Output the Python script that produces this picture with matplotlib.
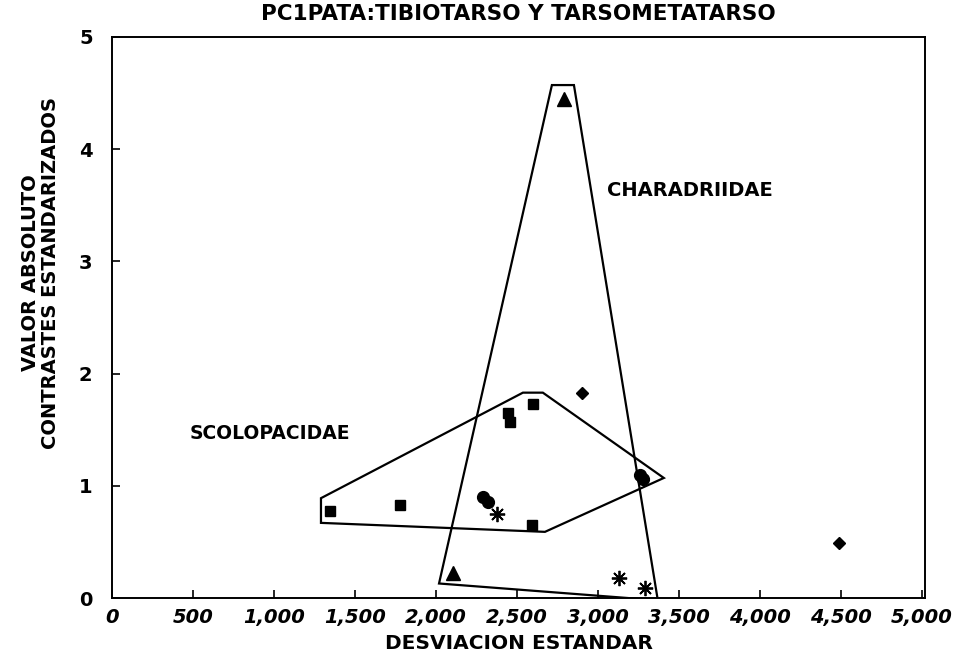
import numpy as np
import matplotlib.pyplot as plt
from matplotlib.ticker import FuncFormatter

plt.rcParams['font.family'] = ['DejaVu Sans']

# point data (desviacion estandar, valor absoluto contraste)
sq_x = [1346, 1778, 2444, 2457, 2599, 2593]
sq_y = [0.78, 0.83, 1.65, 1.57, 1.73, 0.65]
ci_x = [2290, 2320, 3260, 3280]
ci_y = [0.90, 0.86, 1.10, 1.06]
ast_x = [2377, 3130, 3290]
ast_y = [0.75, 0.18, 0.09]
dia_x = [2901, 4488]
dia_y = [1.83, 0.49]
tri_x = [2105, 2790]
tri_y = [0.22, 4.45]

# convex hulls drawn round the families
char_x = [2716, 2852, 3370, 2019]
char_y = [4.57, 4.57, -0.02, 0.13]
scol_x = [1290, 1290, 2673, 3407, 2660, 2537]
scol_y = [0.89, 0.67, 0.59, 1.07, 1.83, 1.83]

xticks = np.arange(0, 5001, 500)
yticks = [0, 1, 2, 3, 4, 5]

fig = plt.figure(figsize=(9.66, 6.69), dpi=100)
ax = fig.add_axes([0.116, 0.106, 0.8416, 0.839])

ax.fill(char_x, char_y, fill=False, edgecolor='black', lw=1.6, closed=True)
ax.fill(scol_x, scol_y, fill=False, edgecolor='black', lw=1.6, closed=True)

ax.plot(sq_x, sq_y, 's', color='black', ms=7, clip_on=False)
ax.plot(ci_x, ci_y, 'o', color='black', ms=8.5, clip_on=False)
ax.plot(ast_x, ast_y, marker=(8, 2, 0), ls='none', color='black', ms=11, mew=1.3, clip_on=False)
ax.plot(dia_x, dia_y, 'D', color='black', ms=6.5, clip_on=False)
ax.plot(tri_x, tri_y, '^', color='black', ms=10, clip_on=False)

ax.text(3056, 3.63, 'CHARADRIIDAE', fontsize=14, fontweight='bold', va='center')
ax.text(481, 1.47, 'SCOLOPACIDAE', fontsize=13.5, fontweight='bold', va='center')

ax.set_xlim(0, 5020)
ax.set_ylim(0, 5)
ax.set_xticks(xticks)
ax.set_yticks(yticks)
ax.xaxis.set_major_formatter(FuncFormatter(lambda v, p: f'{int(v):,}'))
ax.tick_params(direction='in', length=6, width=1.2, labelsize=14)
ax.tick_params(axis='x', pad=7, labelsize=14)
ax.tick_params(axis='y', pad=14)
for lab in ax.get_xticklabels():
    lab.set_fontweight('bold')
    lab.set_fontstyle('italic')
for lab in ax.get_yticklabels():
    lab.set_fontweight('bold')
for s in ax.spines.values():
    s.set_linewidth(1.4)

ax.set_title('PC1PATA:TIBIOTARSO Y TARSOMETATARSO', fontsize=15.5, fontweight='bold', pad=12)
ax.set_xlabel('DESVIACION ESTANDAR', fontsize=14.5, fontweight='bold', labelpad=5)
ax.set_ylabel('VALOR ABSOLUTO\nCONTRASTES ESTANDARIZADOS', fontsize=14, fontweight='bold',
              linespacing=1.05)
ax.yaxis.set_label_coords(-0.064, 0.58)

fig.savefig('out.png', dpi=100)
